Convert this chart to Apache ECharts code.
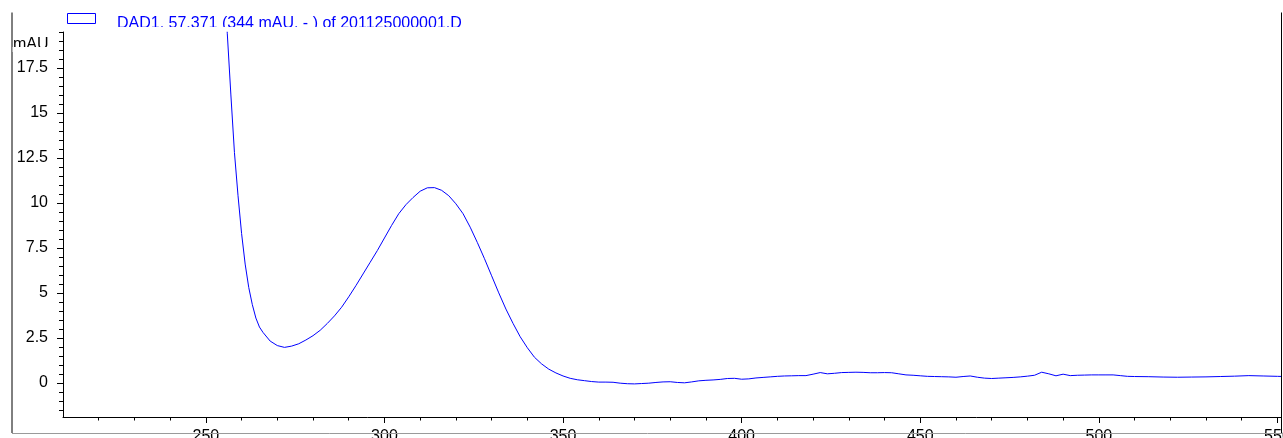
<!DOCTYPE html>
<html>
<head>
<meta charset="utf-8">
<script src="https://cdn.jsdelivr.net/npm/echarts@6/dist/echarts.min.js"></script>
<style>
html,body{margin:0;padding:0;background:#fff;}
#chart{width:1283px;height:438px;}
</style>
</head>
<body>
<div id="chart"></div>
<script>
// ---- data ----
var wavelengths = [252,254,256,257,258,259,260,261,262,263,264,265,266,268,270,272,274,276,278,280,
  282,284,286,288,290,292,294,296,298,300,302,304,306,308,310,312,314,316,318,320,
  322,324,326,328,330,332,334,336,338,340,342,344,346,348,350,352,354,356,358,360,
  362,364,366,368,370,372,374,376,378,380,382,384,386,388,390,392,394,396,398,400,
  402,404,406,408,410,412,414,416,418,420,422,424,426,428,430,432,434,436,438,440,
  442,444,446,448,450,452,454,456,458,460,462,464,466,468,470,472,474,476,478,480,
  482,484,486,488,490,492,494,496,498,500,502,504,506,508,510,514,518,522,526,530,
  534,538,542,546,550,552];
var absorbance = [36,26.5,19.4,16.0,12.8,10.4,8.3,6.6,5.3,4.35,3.6,3.1,2.8,2.32,2.07,1.97,2.04,2.17,2.38,2.62,
  2.92,3.3,3.72,4.2,4.78,5.4,6.05,6.7,7.35,8.05,8.75,9.4,9.9,10.3,10.65,10.84,10.85,10.7,10.4,9.95,
  9.4,8.65,7.8,6.9,5.95,5.0,4.1,3.3,2.56,1.95,1.42,1.05,0.76,0.55,0.38,0.25,0.17,0.12,0.07,0.04,
  0.04,0.03,-0.02,-0.05,-0.06,-0.04,-0.02,0.02,0.05,0.06,0.02,0.0,0.05,0.11,0.14,0.16,0.19,0.24,0.25,0.2,
  0.22,0.27,0.3,0.33,0.36,0.38,0.39,0.40,0.40,0.48,0.57,0.5,0.53,0.57,0.58,0.59,0.58,0.56,0.56,0.57,
  0.56,0.50,0.44,0.42,0.39,0.36,0.35,0.34,0.33,0.31,0.35,0.38,0.31,0.26,0.24,0.26,0.28,0.3,0.33,0.37,
  0.42,0.59,0.5,0.39,0.48,0.40,0.42,0.43,0.44,0.44,0.44,0.44,0.40,0.36,0.35,0.34,0.32,0.31,0.32,0.33,
  0.35,0.37,0.40,0.38,0.36,0.35];
var xMajorTicks = [250,300,350,400,450,500,550];
var xMinorTicks = [220,230,240,260,270,280,290,310,320,330,340,360,370,380,390,410,420,430,440,460,470,480,490,510,520,530,540];
var yMajorTicks = [0,2.5,5,7.5,10,12.5,15,17.5];
var yMinorTicks = [-1.5,-1,-0.5,0.5,1,1.5,2,3,3.5,4,4.5,5.5,6,6.5,7,8,8.5,9,9.5,10.5,11,11.5,12,13,13.5,14,14.5,15.5,16,16.5,17,18,18.5,19,19.5];
var seriesName = 'DAD1, 57.371 (344 mAU, - ) of 201125000001.D';
var yUnit = 'mAU';

var points = wavelengths.map(function(w, i){ return [w, absorbance[i]]; });

var FONT = "'Liberation Sans', Arial, sans-serif";
var xMin = 210, xMax = 551, yMin = -1.9, yMax = 19.5;
var blue = '#0000ff';

var chart = echarts.init(document.getElementById('chart'), null, {renderer:'canvas'});
var option = {
  animation: false,
  backgroundColor: '#fff',
  grid: {left: 63, right: 2, top: 32, bottom: 21, containLabel: false, outerBoundsMode: 'none'},
  xAxis: [{
    type: 'value', min: xMin, max: xMax,
    splitLine: {show: false},
    axisLine: {show: true, onZero: false, lineStyle: {color: '#000', width: 1}},
    axisTick: {show: true, inside: false, length: 6, customValues: xMajorTicks, lineStyle: {color: '#000'}},
    axisLabel: {show: true, customValues: xMajorTicks, margin: 12, color: '#000', fontFamily: FONT, fontSize: 16,
      showMinLabel: true, showMaxLabel: true, hideOverlap: false}
  },{
    type: 'value', min: xMin, max: xMax, position: 'bottom',
    splitLine: {show: false},
    axisLine: {show: false, onZero: false},
    axisTick: {show: true, length: 3.5, customValues: xMinorTicks, lineStyle: {color: '#000'}},
    axisLabel: {show: false}
  }],
  yAxis: [{
    type: 'value', min: yMin, max: yMax,
    splitLine: {show: false},
    axisLine: {show: true, onZero: false, lineStyle: {color: '#000', width: 1}},
    axisTick: {show: true, length: 6, customValues: yMajorTicks, lineStyle: {color: '#000'}},
    axisLabel: {show: true, customValues: yMajorTicks, margin: 15, color: '#000', fontFamily: FONT, fontSize: 16,
      padding: [3,0,0,0], hideOverlap: false}
  },{
    type: 'value', min: yMin, max: yMax, position: 'left',
    splitLine: {show: false},
    axisLine: {show: false, onZero: false},
    axisTick: {show: true, length: 4, customValues: yMinorTicks, lineStyle: {color: '#000'}},
    axisLabel: {show: false}
  }],
  series: [{
    name: seriesName,
    type: 'line',
    xAxisIndex: 0, yAxisIndex: 0,
    data: points,
    showSymbol: false,
    symbol: 'none',
    smooth: false,
    clip: true,
    lineStyle: {color: blue, width: 1},
    itemStyle: {color: blue}
  }],
  graphic: [
    // frame
    {type: 'line', z: 100, shape: {x1: 12, y1: 12.5, x2: 12, y2: 433}, style: {stroke: '#000', lineWidth: 1}},
    {type: 'line', z: 100, shape: {x1: 1281.5, y1: 12.5, x2: 1281.5, y2: 433}, style: {stroke: '#000', lineWidth: 1}},
    {type: 'line', z: 100, shape: {x1: 12, y1: 433.5, x2: 1283, y2: 433.5}, style: {stroke: '#9a9a9a', lineWidth: 1}},
    // legend
    {type: 'rect', z: 100, shape: {x: 67.5, y: 13.5, width: 28, height: 10},
      style: {fill: 'rgba(255,255,255,0)', stroke: blue, lineWidth: 1}},
    {type: 'text', z: 100, left: 117, top: 16, style: {text: seriesName, fill: blue, font: '16px ' + FONT}},
    // axis unit
    {type: 'text', z: 100, left: 13, top: 36.5, style: {text: yUnit, fill: '#000', font: '16px ' + FONT}},
    // masks reproducing the clipped text bottoms
    {type: 'rect', z: 101, shape: {x: 105, y: 27, width: 380, height: 4.5}, style: {fill: '#fff'}},
    {type: 'rect', z: 101, shape: {x: 12.6, y: 47, width: 40, height: 5}, style: {fill: '#fff'}}
  ]
};
chart.setOption(option);
</script>
</body>
</html>
